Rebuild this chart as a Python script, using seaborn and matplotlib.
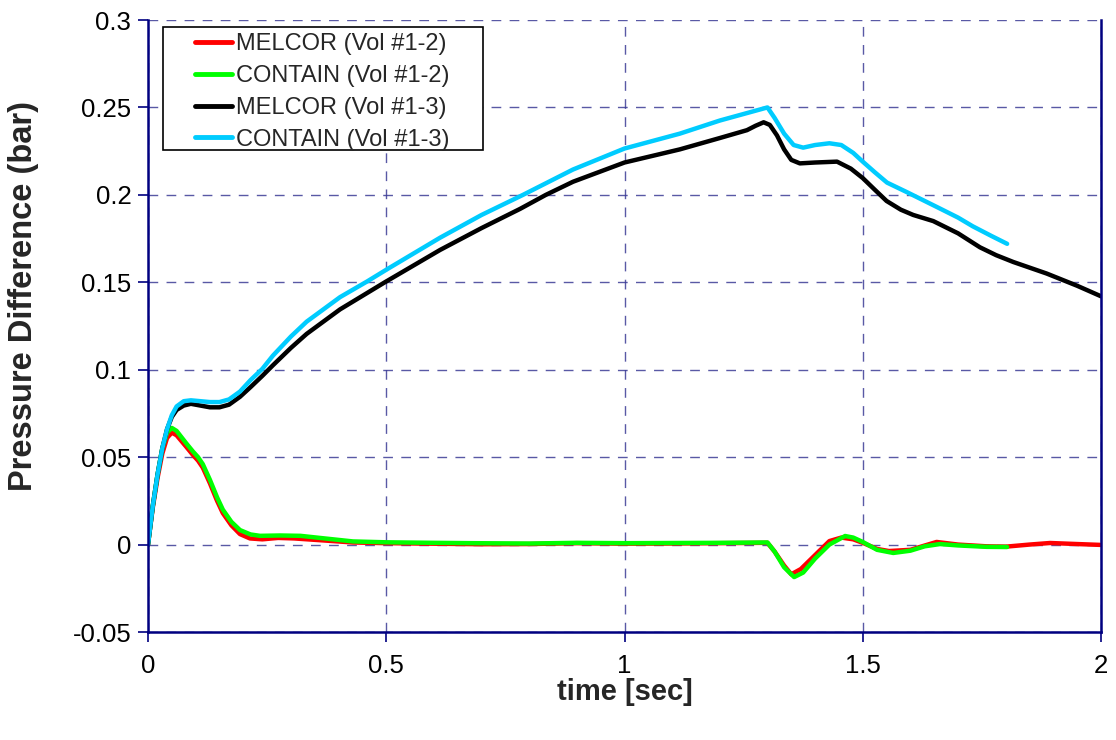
import numpy as np
import pandas as pd
import matplotlib
matplotlib.use("Agg")
import matplotlib.pyplot as plt
import matplotlib.patches as mpatches
import seaborn as sns

# Pressure difference histories (time in s, pressure difference in bar)
t_melcor_12 = [0.000, 0.010, 0.020, 0.030, 0.040, 0.050, 0.060, 0.080, 0.095, 0.105,
               0.115, 0.130, 0.145, 0.157, 0.175, 0.193, 0.214, 0.240, 0.273, 0.307,
               0.361, 0.430, 0.500, 0.600, 0.700, 0.800, 0.900, 1.000, 1.100, 1.200,
               1.300, 1.315, 1.335, 1.350, 1.370, 1.400, 1.430, 1.455, 1.480, 1.500,
               1.530, 1.555, 1.600, 1.655, 1.700, 1.760, 1.800, 1.850, 1.893, 1.950, 2.000]
p_melcor_12 = [0.000, 0.021, 0.038, 0.052, 0.061, 0.064, 0.0625, 0.056, 0.051, 0.048,
               0.044, 0.035, 0.025, 0.018, 0.011, 0.006, 0.0035, 0.0030, 0.0038, 0.0035,
               0.0025, 0.0012, 0.0008, 0.0005, 0.0002, 0.0003, 0.0008, 0.0005, 0.0006, 0.0008,
               0.0010, -0.004, -0.012, -0.017, -0.014, -0.006, 0.002, 0.0040, 0.003, 0.0010,
               -0.0025, -0.0037, -0.003, 0.0015, 0.0000, -0.0010, -0.0012, 0.0000, 0.0009, 0.0003, -0.0002]

t_contain_12 = [0.000, 0.010, 0.020, 0.030, 0.040, 0.050, 0.060, 0.080, 0.095, 0.105,
                0.115, 0.130, 0.145, 0.157, 0.175, 0.193, 0.215, 0.235, 0.277, 0.320,
                0.361, 0.430, 0.500, 0.600, 0.680, 0.800, 0.900, 1.000, 1.100, 1.200,
                1.300, 1.315, 1.335, 1.356, 1.375, 1.400, 1.430, 1.463, 1.480, 1.500,
                1.530, 1.564, 1.600, 1.630, 1.662, 1.700, 1.760, 1.803]
p_contain_12 = [0.000, 0.022, 0.040, 0.055, 0.064, 0.0667, 0.065, 0.058, 0.053, 0.050,
                0.046, 0.037, 0.027, 0.020, 0.013, 0.0083, 0.0058, 0.0050, 0.0052, 0.0050,
                0.0038, 0.0018, 0.0013, 0.0010, 0.0008, 0.0006, 0.0010, 0.0008, 0.0009, 0.0010,
                0.0012, -0.004, -0.013, -0.0186, -0.016, -0.008, 0.000, 0.0049, 0.004, 0.0015,
                -0.003, -0.0048, -0.0035, -0.001, 0.0003, -0.0005, -0.0013, -0.0014]

t_melcor_13 = [0.000, 0.010, 0.020, 0.030, 0.040, 0.050, 0.060, 0.075, 0.090, 0.110,
               0.130, 0.150, 0.170, 0.193, 0.215, 0.240, 0.262, 0.300, 0.333, 0.403,
               0.497, 0.613, 0.700, 0.781, 0.835, 0.892, 1.000, 1.116, 1.200, 1.257,
               1.275, 1.292, 1.305, 1.320, 1.335, 1.350, 1.368, 1.400, 1.446, 1.475,
               1.500, 1.525, 1.550, 1.580, 1.606, 1.648, 1.700, 1.746, 1.780, 1.816,
               1.886, 1.950, 2.000]
p_melcor_13 = [0.000, 0.022, 0.040, 0.055, 0.066, 0.073, 0.077, 0.0795, 0.0805, 0.0795,
               0.0785, 0.0785, 0.0800, 0.0845, 0.0900, 0.0965, 0.1025, 0.1125, 0.1205, 0.1345,
               0.150, 0.1685, 0.181, 0.192, 0.200, 0.2075, 0.2185, 0.226, 0.2325, 0.2370,
               0.2395, 0.2415, 0.240, 0.234, 0.226, 0.220, 0.218, 0.2185, 0.219, 0.215,
               0.2096, 0.203, 0.1965, 0.1915, 0.1885, 0.185, 0.178, 0.170, 0.1655, 0.1616,
               0.155, 0.148, 0.142]

t_contain_13 = [0.000, 0.010, 0.020, 0.030, 0.040, 0.050, 0.060, 0.075, 0.090, 0.110,
                0.130, 0.150, 0.170, 0.193, 0.215, 0.240, 0.262, 0.300, 0.333, 0.403,
                0.460, 0.502, 0.613, 0.700, 0.787, 0.892, 1.000, 1.116, 1.200, 1.260,
                1.300, 1.315, 1.335, 1.355, 1.375, 1.400, 1.430, 1.455, 1.480, 1.500,
                1.525, 1.551, 1.593, 1.656, 1.700, 1.731, 1.770, 1.803]
p_contain_13 = [0.000, 0.022, 0.040, 0.055, 0.066, 0.074, 0.079, 0.082, 0.0825, 0.082,
                0.0815, 0.0815, 0.083, 0.0875, 0.0940, 0.1005, 0.1080, 0.1190, 0.1275, 0.1415,
                0.1505, 0.1575, 0.1755, 0.1885, 0.200, 0.2145, 0.2265, 0.235, 0.2425, 0.247,
                0.250, 0.244, 0.235, 0.2285, 0.227, 0.2285, 0.2295, 0.2285, 0.224, 0.219,
                0.213, 0.207, 0.2015, 0.193, 0.187, 0.182, 0.1765, 0.172]

series_labels = ["MELCOR (Vol #1-2)", "CONTAIN (Vol #1-2)",
                 "MELCOR (Vol #1-3)", "CONTAIN (Vol #1-3)"]
series_colors = ["#ff0000", "#00ff00", "#000000", "#00ccff"]

x_ticks = [0, 0.5, 1, 1.5, 2]
x_tick_labels = ["0", "0.5", "1", "1.5", "2"]
y_ticks = [-0.05, 0, 0.05, 0.1, 0.15, 0.2, 0.25, 0.3]
y_tick_labels = ["-0.05", "0", "0.05", "0.1", "0.15", "0.2", "0.25", "0.3"]

sns.set_style("white")
plt.rcParams["font.family"] = ["Liberation Sans", "DejaVu Sans"]

W, H = 1116, 740
fig = plt.figure(figsize=(W / 100, H / 100), dpi=100)
ax_l, ax_r, ax_t, ax_b = 148, 1101, 20, 632
ax = fig.add_axes([ax_l / W, (H - ax_b) / H, (ax_r - ax_l) / W, (ax_b - ax_t) / H])
aw, ah = ax_r - ax_l, ax_b - ax_t

series = [(t_melcor_12, p_melcor_12), (t_contain_12, p_contain_12),
          (t_melcor_13, p_melcor_13), (t_contain_13, p_contain_13)]
for (t, p), lab, col in zip(series, series_labels, series_colors):
    df = pd.DataFrame({"time": t, "dp": p})
    sns.lineplot(data=df, x="time", y="dp", ax=ax, color=col, label=lab,
                 linewidth=3.2, sort=False, estimator=None,
                 solid_joinstyle="round", solid_capstyle="round")

ax.set_xlim(0, 2)
ax.set_ylim(-0.05, 0.3)
ax.set_xticks(x_ticks)
ax.set_xticklabels(x_tick_labels)
ax.set_yticks(y_ticks)
ax.set_yticklabels(y_tick_labels)

grid_color = "#3c3c96"
ax.grid(True, color=grid_color, linestyle=(0, (7, 6)), linewidth=1.0, alpha=0.85)
ax.set_axisbelow(True)

navy = "#000080"
for side in ["left", "bottom", "right"]:
    ax.spines[side].set_visible(True)
    ax.spines[side].set_color(navy)
    ax.spines[side].set_linewidth(1.8)
ax.spines["top"].set_visible(False)

ax.tick_params(axis="both", which="major", direction="out", length=7, width=1.2,
               color=navy, labelsize=18.5, labelcolor="black")
ax.tick_params(axis="x", pad=9, bottom=True)
ax.tick_params(axis="y", pad=5, left=True)

ax.set_xlabel("time [sec]", fontsize=21, fontweight="bold")
ax.xaxis.set_label_coords(0.5, (ax_b - 678) / ah)
ax.set_ylabel("Pressure Difference (bar)", fontsize=23.5, fontweight="bold")
ax.yaxis.set_label_coords((39 - ax_l) / aw, (ax_b - 296) / ah)

# legend entries without frame, boxed by a plain rectangle
leg = ax.legend(loc="upper left", bbox_to_anchor=((195 - ax_l) / aw, (ax_b - 33) / ah),
                borderaxespad=0, borderpad=0, fontsize=17, frameon=False,
                handlelength=1.55, handletextpad=0.2, labelspacing=0.42)
for line in leg.get_lines():
    line.set_linewidth(3.5)
box = mpatches.Rectangle(((163 - ax_l) / aw, (ax_b - 150) / ah),
                         (483 - 163) / aw, (150 - 27) / ah,
                         transform=ax.transAxes, facecolor="white",
                         edgecolor="black", linewidth=1.2, zorder=4.5)
ax.add_patch(box)
leg.set_zorder(5)

fig.savefig("out.png", dpi=100, facecolor="white")
